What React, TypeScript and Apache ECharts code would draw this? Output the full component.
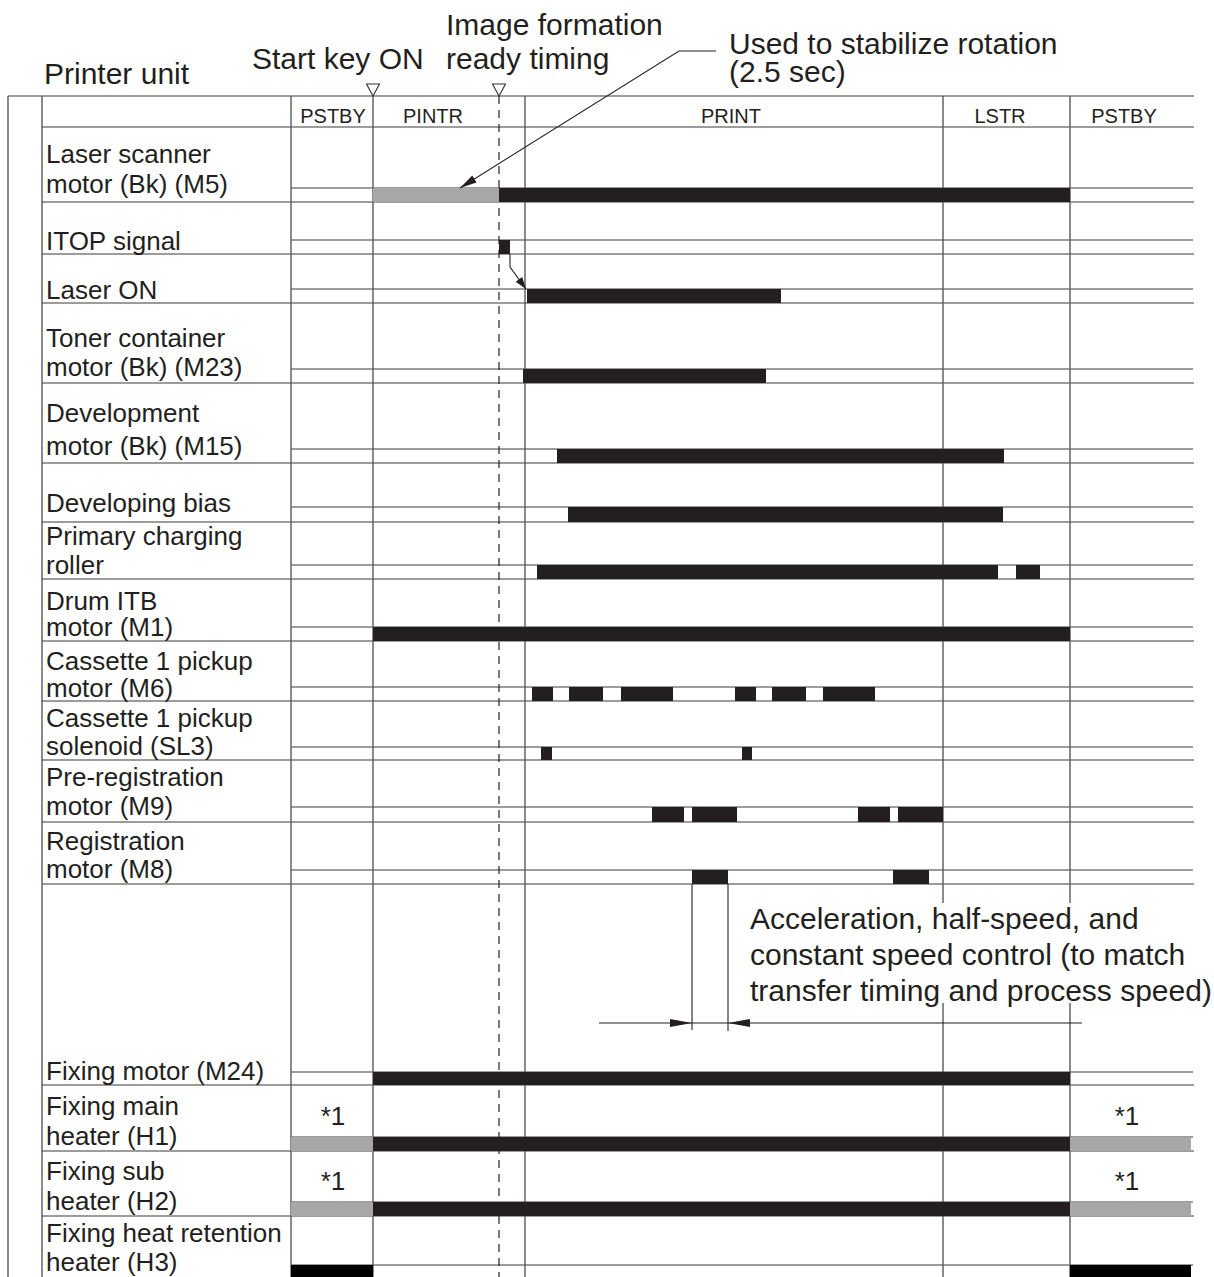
import React, { useEffect, useRef } from "react";
import * as echarts from "echarts";

const FONT = '"Liberation Sans", Arial, Helvetica, sans-serif';
const INK = "#231f20";
const GRAY = "#a7a7a7";
const V_LINE = "#5a5a5a";
const H_LINE = "#3a3a3a";

// ---------- time axis (arbitrary time units) ----------
const X_MIN = -28.3;
const X_MAX = 90.3;
const PHASE_NAMES = ["PSTBY", "PINTR", "PRINT", "LSTR", "PSTBY"];
const PHASE_NAME_POS = [4.2, 14.2, 44.0, 70.9, 83.3];
const PHASE_LINES = [0, 8.2, 23.4, 65.2, 77.9];
const START_KEY_ON = 8.2;
const IMAGE_READY = 20.8;
const TIMELINE_END = 90.0;

// ---------- signals ----------
const ROW_LABELS: string[][] = [
  ["Laser scanner", "motor (Bk) (M5)"],
  ["ITOP signal"],
  ["Laser ON"],
  ["Toner container", "motor (Bk) (M23)"],
  ["Development", "motor (Bk) (M15)"],
  ["Developing bias"],
  ["Primary charging", "roller"],
  ["Drum ITB", "motor (M1)"],
  ["Cassette 1 pickup", "motor (M6)"],
  ["Cassette 1 pickup", "solenoid (SL3)"],
  ["Pre-registration", "motor (M9)"],
  ["Registration", "motor (M8)"],
  ["Fixing motor (M24)"],
  ["Fixing main", "heater (H1)"],
  ["Fixing sub", "heater (H2)"],
  ["Fixing heat retention", "heater (H3)"],
];

// ON periods [start, end]
const M5_ON = [[20.8, 77.9]];
const M5_STABILIZE = [[8.2, 20.8]];
const ITOP_ON = [[20.8, 21.9]];
const LASER_ON = [[23.6, 49.0]];
const M23_ON = [[23.2, 47.5]];
const M15_ON = [[26.6, 71.3]];
const DEV_BIAS_ON = [[27.7, 71.2]];
const PRIMARY_ON = [[24.6, 70.7], [72.5, 74.9]];
const M1_ON = [[8.2, 77.9]];
const M6_ON = [[24.1, 26.2], [27.8, 31.2], [33.0, 38.2], [44.4, 46.5], [48.1, 51.5], [53.2, 58.4]];
const SL3_ON = [[25.0, 26.1], [45.1, 46.1]];
const M9_ON = [[36.1, 39.3], [40.1, 44.6], [56.7, 59.9], [60.7, 65.2]];
const M8_ON = [[40.1, 43.7], [60.2, 63.8]];
const M24_ON = [[8.2, 77.9]];
const H1_ON = [[8.2, 77.9]];
const H1_TEMP_CTRL = [[0, 8.2], [77.9, 90.0]];
const H2_ON = [[8.2, 77.9]];
const H2_TEMP_CTRL = [[0, 8.2], [77.9, 90.0]];
const H3_ON = [[0, 8.2], [77.9, 90.0]];

const ON_PERIODS = [M5_ON, ITOP_ON, LASER_ON, M23_ON, M15_ON, DEV_BIAS_ON, PRIMARY_ON, M1_ON, M6_ON, SL3_ON, M9_ON, M8_ON, M24_ON, H1_ON, H2_ON, H3_ON];
const GRAY_PERIODS = [M5_STABILIZE, [], [], [], [], [], [], [], [], [], [], [], [], H1_TEMP_CTRL, H2_TEMP_CTRL, []];
const FOOTNOTE_ROWS = [13, 14];
const FOOTNOTE_POS = [4.2, 83.6];

// ---------- layout (page pixels) ----------
const PAGE_W = 1214;
const PAGE_H = 1277;
const TABLE_LEFT = 8;
const LABEL_LEFT = 42;
const LABEL_TEXT_X = 46;
const HEADER_TOP = 96;
const HEADER_BOTTOM = 127;
const ROW_BOTTOM = [202, 254, 303, 383, 463, 522, 579, 641, 701, 760, 822, 884, 1085, 1151, 1216, 1279];
const BAND_TOP = [188, 240, 289, 369, 449, 507, 565, 627, 687, 747, 807, 870, 1072, 1137, 1202, 1265];
const LABEL_BASELINES = [
  [163, 193], [250], [299], [347, 376], [422, 455], [512], [545, 574], [610, 636],
  [670, 697], [727, 755], [786, 815], [850, 878], [1080], [1115, 1145], [1180, 1210], [1242, 1271],
];

function txt(x: number, baseline: number, text: string, size: number, align = "left") {
  return {
    type: "text",
    x,
    y: baseline - 0.347 * size,
    silent: true,
    style: { text, fill: INK, font: `${size}px ${FONT}`, align, verticalAlign: "middle" },
  };
}
function ln(x1: number, y1: number, x2: number, y2: number, stroke = H_LINE, lw = 1.2, dash?: number[]) {
  return {
    type: "line",
    silent: true,
    shape: { x1, y1, x2, y2 },
    style: { stroke, lineWidth: lw, lineDash: dash },
  };
}
function arrowHead(tip: number[], from: number[], len: number, half: number) {
  const dx = tip[0] - from[0];
  const dy = tip[1] - from[1];
  const L = Math.hypot(dx, dy);
  const ux = dx / L;
  const uy = dy / L;
  const bx = tip[0] - ux * len;
  const by = tip[1] - uy * len;
  return {
    type: "polygon",
    silent: true,
    shape: { points: [tip, [bx - uy * half, by + ux * half], [bx + uy * half, by - ux * half]] },
    style: { fill: INK },
  };
}

export default function App() {
  const ref = useRef<HTMLDivElement>(null);
  useEffect(() => {
    if (!ref.current) return;
    const chart = echarts.init(ref.current, null, { renderer: "svg" });

    const barData: number[][] = [];
    ON_PERIODS.forEach((periods, row) => periods.forEach((p) => barData.push([row, p[0], p[1], 0])));
    GRAY_PERIODS.forEach((periods, row) => periods.forEach((p) => barData.push([row, p[0], p[1], 1])));

    const tableRender = (_params: any, api: any) => {
      const X = (t: number) => api.coord([t, 0])[0];
      const Y = (v: number) => api.coord([0, v])[1];
      const right = X(X_MAX);
      const bandRight = X(TIMELINE_END) + 2;
      const children: any[] = [];
      // frame
      children.push(ln(TABLE_LEFT, Y(HEADER_TOP), right, Y(HEADER_TOP)));
      children.push(ln(LABEL_LEFT, Y(HEADER_BOTTOM), right, Y(HEADER_BOTTOM)));
      children.push(ln(TABLE_LEFT, Y(HEADER_TOP), TABLE_LEFT, Y(PAGE_H), V_LINE, 1.4));
      children.push(ln(LABEL_LEFT, Y(HEADER_TOP), LABEL_LEFT, Y(PAGE_H), V_LINE, 1.4));
      // rows
      ROW_BOTTOM.forEach((b, r) => {
        children.push(ln(X(0), Y(BAND_TOP[r]), bandRight, Y(BAND_TOP[r])));
        children.push(ln(LABEL_LEFT, Y(b), right, Y(b)));
        ROW_LABELS[r].forEach((s, i) => children.push(txt(LABEL_TEXT_X, Y(LABEL_BASELINES[r][i]), s, 26)));
      });
      // phase lines
      PHASE_LINES.forEach((t) => children.push(ln(X(t), Y(HEADER_TOP), X(t), Y(PAGE_H), V_LINE, 1.4)));
      children.push(ln(X(IMAGE_READY), Y(HEADER_TOP), X(IMAGE_READY), Y(PAGE_H), "#222", 1.2, [8, 6]));
      // phase names
      PHASE_NAMES.forEach((n, i) => children.push(txt(X(PHASE_NAME_POS[i]), Y(122.5), n, 20, "center")));
      // footnotes *1
      FOOTNOTE_ROWS.forEach((r) =>
        FOOTNOTE_POS.forEach((t) => children.push(txt(X(t), Y(BAND_TOP[r] - 12), "*1", 26, "center")))
      );
      return { type: "group", children };
    };

    const barRender = (_params: any, api: any) => {
      const row = api.value(0);
      const p1 = api.coord([api.value(1), BAND_TOP[row]]);
      const p2 = api.coord([api.value(2), ROW_BOTTOM[row]]);
      const kind = api.value(3);
      const fill = kind === 1 ? GRAY : row === 15 ? "#000" : INK;
      return {
        type: "rect",
        silent: true,
        shape: { x: p1[0], y: p1[1], width: p2[0] - p1[0], height: p2[1] - p1[1] },
        style: { fill },
      };
    };

    const notesRender = (_params: any, api: any) => {
      const X = (t: number) => api.coord([t, 0])[0];
      const Y = (v: number) => api.coord([0, v])[1];
      const c: any[] = [];
      // titles
      c.push(txt(44, Y(84), "Printer unit", 30));
      c.push(txt(252, Y(69), "Start key ON", 30));
      c.push(txt(446, Y(35), "Image formation", 30));
      c.push(txt(446, Y(69), "ready timing", 30));
      c.push(txt(729, Y(54), "Used to stabilize rotation", 30));
      c.push(txt(729, Y(82), "(2.5 sec)", 30));
      // event triangles
      [START_KEY_ON, IMAGE_READY].forEach((t) => {
        const x = X(t);
        c.push({
          type: "polygon",
          silent: true,
          shape: { points: [[x - 6.5, Y(84)], [x + 6.5, Y(84)], [x, Y(HEADER_TOP)]] },
          style: { fill: "#fff", stroke: "#333", lineWidth: 1.1 },
        });
      });
      // stabilize rotation leader
      const tip = [X(16.9), Y(BAND_TOP[0])];
      const elbow = [X(38.8), Y(51)];
      c.push({
        type: "polyline",
        silent: true,
        shape: { points: [[X(42.5), Y(51)], elbow, tip] },
        style: { stroke: INK, lineWidth: 1.1, fill: null },
      });
      c.push(arrowHead(tip, elbow, 17, 4));
      // ITOP -> laser ON arrow
      const itopEnd = ITOP_ON[0][1];
      const a0 = [X(itopEnd), Y(ROW_BOTTOM[1])];
      const a1 = [X(itopEnd), Y(267)];
      const a2 = [X(LASER_ON[0][0] - 0.1), Y(BAND_TOP[2])];
      c.push({
        type: "polyline",
        silent: true,
        shape: { points: [a0, a1, a2] },
        style: { stroke: INK, lineWidth: 1.1, fill: null },
      });
      c.push(arrowHead(a2, a1, 12, 4));
      // white box behind annotation text
      c.push({ type: "rect", silent: true, shape: { x: 746, y: Y(903), width: PAGE_W - 746, height: 100 }, style: { fill: "#fff" } });
      c.push(txt(750, Y(929), "Acceleration, half-speed, and", 30));
      c.push(txt(750, Y(965), "constant speed control (to match", 30));
      c.push(txt(750, Y(1001), "transfer timing and process speed)", 30));
      // dimension
      const dimY = Y(1023);
      const d1 = X(M8_ON[0][0]);
      const d2 = X(M8_ON[0][1]);
      c.push(ln(d1, Y(ROW_BOTTOM[11]), d1, Y(1030), INK, 1.1));
      c.push(ln(d2, Y(ROW_BOTTOM[11]), d2, Y(1031), INK, 1.1));
      c.push(ln(X(30.8), dimY, X(79.1), dimY, INK, 1.1));
      c.push(arrowHead([d1, dimY], [d1 - 30, dimY], 22, 4));
      c.push(arrowHead([d2, dimY], [d2 + 30, dimY], 22, 4));
      return { type: "group", children: c };
    };

    chart.setOption({
      animation: false,
      backgroundColor: "#fff",
      grid: { left: TABLE_LEFT, right: PAGE_W - 1194, top: 0, bottom: 0 },
      xAxis: { type: "value", min: X_MIN, max: X_MAX, show: false },
      yAxis: { type: "value", min: 0, max: PAGE_H, inverse: true, show: false },
      series: [
        { type: "custom", name: "table", z: 1, clip: false, silent: true, data: [[0, 0]], renderItem: tableRender },
        { type: "custom", name: "signals", z: 2, clip: false, silent: true, data: barData, renderItem: barRender },
        { type: "custom", name: "notes", z: 3, clip: false, silent: true, data: [[0, 0]], renderItem: notesRender },
      ],
    });
    return () => chart.dispose();
  }, []);
  return (
    <div
      ref={ref}
      style={{ position: "absolute", left: 0, top: 0, width: PAGE_W, height: PAGE_H, background: "#fff" }}
    />
  );
}
